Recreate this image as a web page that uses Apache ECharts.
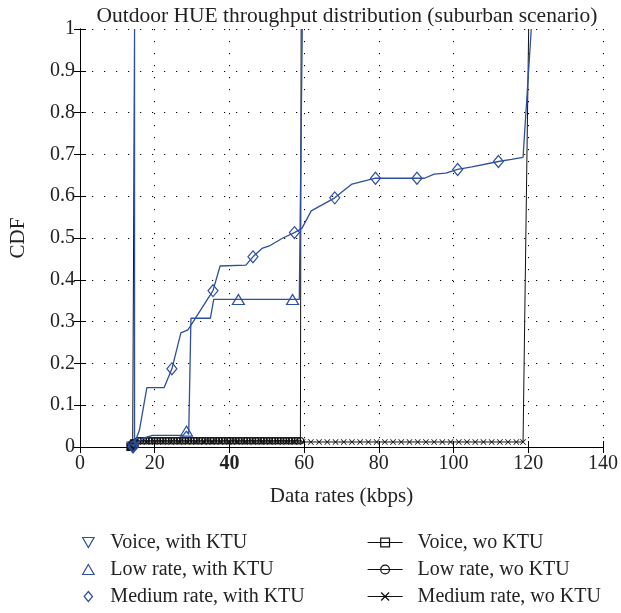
<!DOCTYPE html>
<html>
<head>
<meta charset="utf-8">
<script src="https://cdn.jsdelivr.net/npm/echarts@6/dist/echarts.min.js"></script>
<style>
html,body{margin:0;padding:0;background:#fff;}
#chart{width:621px;height:613px;}
</style>
</head>
<body>
<div id="chart"></div>
<script>
// ---- Data ----
const xTicks = [0, 20, 40, 60, 80, 100, 120, 140];
const yTicks = [0, 0.1, 0.2, 0.3, 0.4, 0.5, 0.6, 0.7, 0.8, 0.9, 1];

// Voice, with KTU: [x, y, hasMarker]
const voiceWith = [[14.2, 0, 1], [14.6, 0.005, 0], [14.6, 1, 0]];

// Low rate, with KTU
const lowWith = [
  [14.3, 0, 0], [16.5, 0.02, 0], [19.4, 0.028, 0], [27.6, 0.028, 0],
  [28.5, 0.038, 1], [29.1, 0.03, 0], [29.7, 0.308, 0], [34.9, 0.308, 0],
  [35.8, 0.353, 0], [42.4, 0.353, 1], [56.9, 0.353, 1], [58.7, 0.353, 0],
  [59.5, 1, 0]
];

// Medium rate, with KTU
const medWith = [
  [14.2, 0, 1], [15.9, 0.04, 0], [17.9, 0.142, 0], [22.5, 0.142, 0],
  [24.6, 0.187, 1], [27.0, 0.273, 0], [28.9, 0.28, 0], [35.6, 0.374, 1],
  [37.5, 0.433, 0], [44.4, 0.435, 0], [46.3, 0.455, 1], [48.7, 0.475, 0],
  [50.9, 0.482, 0], [54.3, 0.5, 0], [57.4, 0.513, 1], [59.4, 0.523, 0],
  [61.9, 0.565, 0], [68.2, 0.596, 1], [70.1, 0.61, 0], [72.8, 0.629, 0],
  [79.1, 0.643, 1], [90.2, 0.643, 1], [92.2, 0.643, 0], [94.8, 0.653, 0],
  [97.9, 0.655, 0], [101.1, 0.664, 1], [104.9, 0.67, 0], [112.0, 0.683, 1],
  [115.5, 0.688, 0], [118.6, 0.693, 0], [120.8, 1.0, 0]
];

// Voice, wo KTU: [x, y, hasMarker]
const voiceWo = [
  [13.5, 0, 1], [13.7, 0.002, 1], [13.9, 0.003, 1], [14.1, 0.004, 1], [14.3, 0.006, 1],
  [14.5, 0.008, 1], [14.6, 0.009, 1], [14.6, 1, 0]
];

// Low rate, wo KTU
const lowWoX = [
  15.5, 16.2, 17.0, 17.7, 18.5, 19.2, 20.0, 20.7, 21.5, 22.2, 23.0, 23.7,
  24.5, 25.2, 26.0, 26.7, 27.5, 28.2, 29.0, 29.7, 30.5, 31.2, 32.0, 32.7,
  33.5, 34.2, 35.0, 35.7, 36.5, 37.2, 38.0, 38.7, 39.5, 40.2, 41.0, 41.7,
  42.5, 43.2, 44.0, 44.7, 45.5, 46.2, 47.0, 47.7, 48.5, 49.2, 50.0, 50.7,
  51.5, 52.2, 53.0, 53.7, 54.5, 55.2, 56.0, 56.7, 57.5, 58.2, 59.0
];
const lowWoY = 0.015;
const lowWoTop = [59.2, 1];

// Medium rate, wo KTU
const medWoX = [
  15.6, 17.8, 20.0, 22.2, 24.4, 26.6, 28.8, 31.0, 33.2, 35.4, 37.6, 39.8,
  42.0, 44.2, 46.4, 48.6, 50.8, 53.0, 55.2, 57.4, 59.6, 61.8, 64.0, 66.2,
  68.4, 70.6, 72.8, 75.0, 77.2, 79.4, 81.6, 83.8, 86.0, 88.2, 90.4, 92.6,
  94.8, 97.0, 99.2, 101.4, 103.6, 105.8, 108.0, 110.2, 112.4, 114.6, 116.8, 118.6
];
const medWoY = 0.012;
const medWoTop = [120.1, 1];

const names = [
  'Voice, with KTU', 'Low rate, with KTU', 'Medium rate, with KTU',
  'Voice, wo KTU', 'Low rate, wo KTU', 'Medium rate, wo KTU'
];

// ---- Styling ----
const BLUE = '#2d4f9f';
const BLACK = '#111';
const CLEAR = 'rgba(0,0,0,0)';
const FONT = 'Liberation Serif';
const TXT = '#222';
const DOWN_TRI = 'path://M0,0L10,0L5,8.7Z';
const UP_TRI = 'path://M5,0L10,8.7L0,8.7Z';
const DIAMOND = 'path://M5,0L10,6L5,12L0,6Z';
const XMARK = 'path://M0,1L1,0L5,4L9,0L10,1L6,5L10,9L9,10L5,6L1,10L0,9L4,5Z';

function markedData(arr) {
  return arr.map(p => p[2] ? {value: [p[0], p[1]]} : {value: [p[0], p[1]], symbol: 'none'});
}
function flatData(xs, y, top) {
  return xs.map(x => ({value: [x, y]})).concat([{value: top, symbol: 'none'}]);
}

const chart = echarts.init(document.getElementById('chart'), null, {renderer: 'canvas'});

const gridLine = {show: true, lineStyle: {color: '#000', width: 1, type: [1.2, 10.8]}};
const axisLineStyle = {show: true, lineStyle: {color: '#000', width: 1}};
const tickStyle = {show: true, inside: true, length: 6, lineStyle: {color: '#000'}};
const legendText = {fontFamily: FONT, fontSize: 20, color: TXT, lineHeight: 21};

const option = {
  backgroundColor: '#fff',
  animation: false,
  title: {
    text: 'Outdoor HUE throughput distribution (suburban scenario)',
    left: 342, top: 0, textAlign: 'center',
    textStyle: {fontFamily: FONT, fontSize: 21.5, fontWeight: 'normal', color: TXT}
  },
  grid: {left: 78, right: 13, top: 29, bottom: 166, containLabel: false},
  xAxis: [{
    type: 'value', min: 0, max: 140, interval: 20, position: 'bottom',
    name: 'Data rates (kbps)', nameLocation: 'middle', nameGap: 39,
    nameTextStyle: {fontFamily: FONT, fontSize: 21, color: TXT},
    axisLine: axisLineStyle, axisTick: tickStyle,
    axisLabel: {
      fontFamily: FONT, fontSize: 20, color: TXT, margin: 7,
      formatter: v => (xTicks.indexOf(v) >= 0 ? (v === 40 ? '{b|40}' : String(v)) : ''),
      rich: {b: {fontFamily: FONT, fontSize: 20, fontWeight: 'bold', color: TXT}}
    },
    splitLine: gridLine
  }, {
    type: 'value', min: 0, max: 140, interval: 20, position: 'top',
    axisLine: axisLineStyle, axisTick: tickStyle,
    axisLabel: {show: false}, splitLine: {show: false}
  }],
  yAxis: [{
    type: 'value', min: 0, max: 1, interval: 0.1, position: 'left',
    name: 'CDF', nameLocation: 'middle', nameGap: 51, nameRotate: 90,
    nameTextStyle: {fontFamily: FONT, fontSize: 21, color: TXT},
    axisLine: axisLineStyle, axisTick: tickStyle,
    axisLabel: {
      fontFamily: FONT, fontSize: 20, color: TXT, margin: 5,
      formatter: v => {
        const r = Math.round(v * 10) / 10;
        return yTicks.indexOf(r) >= 0 ? String(r) : '';
      }
    },
    splitLine: gridLine
  }, {
    type: 'value', min: 0, max: 1, interval: 0.1, position: 'right',
    axisLine: axisLineStyle, axisTick: tickStyle,
    axisLabel: {show: false}, splitLine: {show: false}
  }],
  legend: [{
    orient: 'vertical', left: 82, top: 532, padding: 0, height: 81,
    itemWidth: 34, itemHeight: 10, itemGap: 6,
    textStyle: legendText,
    data: [
      {name: names[0], icon: DOWN_TRI, itemStyle: {color: CLEAR, borderColor: BLUE, borderWidth: 1.2}},
      {name: names[1], icon: UP_TRI, itemStyle: {color: CLEAR, borderColor: BLUE, borderWidth: 1.2}},
      {name: names[2], icon: DIAMOND, itemStyle: {color: CLEAR, borderColor: BLUE, borderWidth: 1.2}}
    ]
  }, {
    orient: 'vertical', left: 367, top: 532, padding: 0, height: 81,
    itemWidth: 35, itemHeight: 11, itemGap: 6,
    textStyle: Object.assign({}, legendText, {padding: [0, 0, 0, 10]}),
    data: [
      {name: names[3], lineStyle: {width: 1.2, color: BLACK}, itemStyle: {color: CLEAR, borderColor: BLACK, borderWidth: 1.2}},
      {name: names[4], lineStyle: {width: 1.2, color: BLACK}, itemStyle: {color: CLEAR, borderColor: BLACK, borderWidth: 1.2}},
      {name: names[5], lineStyle: {width: 1.2, color: BLACK}, itemStyle: {color: BLACK, borderColor: BLACK, borderWidth: 0}}
    ]
  }],
  series: [
    {
      name: names[3], type: 'line', z: 2,
      data: markedData(voiceWo),
      symbol: 'rect', symbolSize: 7,
      itemStyle: {color: CLEAR, borderColor: BLACK, borderWidth: 1.2},
      lineStyle: {color: BLACK, width: 1}
    },
    {
      name: names[4], type: 'line', z: 2,
      data: flatData(lowWoX, lowWoY, lowWoTop),
      symbol: 'circle', symbolSize: 6.5,
      itemStyle: {color: CLEAR, borderColor: BLACK, borderWidth: 1.2},
      lineStyle: {color: BLACK, width: 1}
    },
    {
      name: names[5], type: 'line', z: 2,
      data: flatData(medWoX, medWoY, medWoTop),
      symbol: XMARK, symbolSize: 6,
      itemStyle: {color: BLACK},
      lineStyle: {color: BLACK, width: 1}
    },
    {
      name: names[0], type: 'line', z: 4,
      data: markedData(voiceWith),
      symbol: DOWN_TRI, symbolSize: [12, 10],
      itemStyle: {color: CLEAR, borderColor: BLUE, borderWidth: 1.2},
      lineStyle: {color: BLUE, width: 1.3}
    },
    {
      name: names[1], type: 'line', z: 4,
      data: markedData(lowWith),
      symbol: UP_TRI, symbolSize: [12, 10],
      itemStyle: {color: CLEAR, borderColor: BLUE, borderWidth: 1.2},
      lineStyle: {color: BLUE, width: 1.3}
    },
    {
      name: names[2], type: 'line', z: 4,
      data: markedData(medWith),
      symbol: DIAMOND, symbolSize: [10, 12],
      itemStyle: {color: CLEAR, borderColor: BLUE, borderWidth: 1.2},
      lineStyle: {color: BLUE, width: 1.3}
    }
  ]
};
chart.setOption(option);
</script>
</body>
</html>
